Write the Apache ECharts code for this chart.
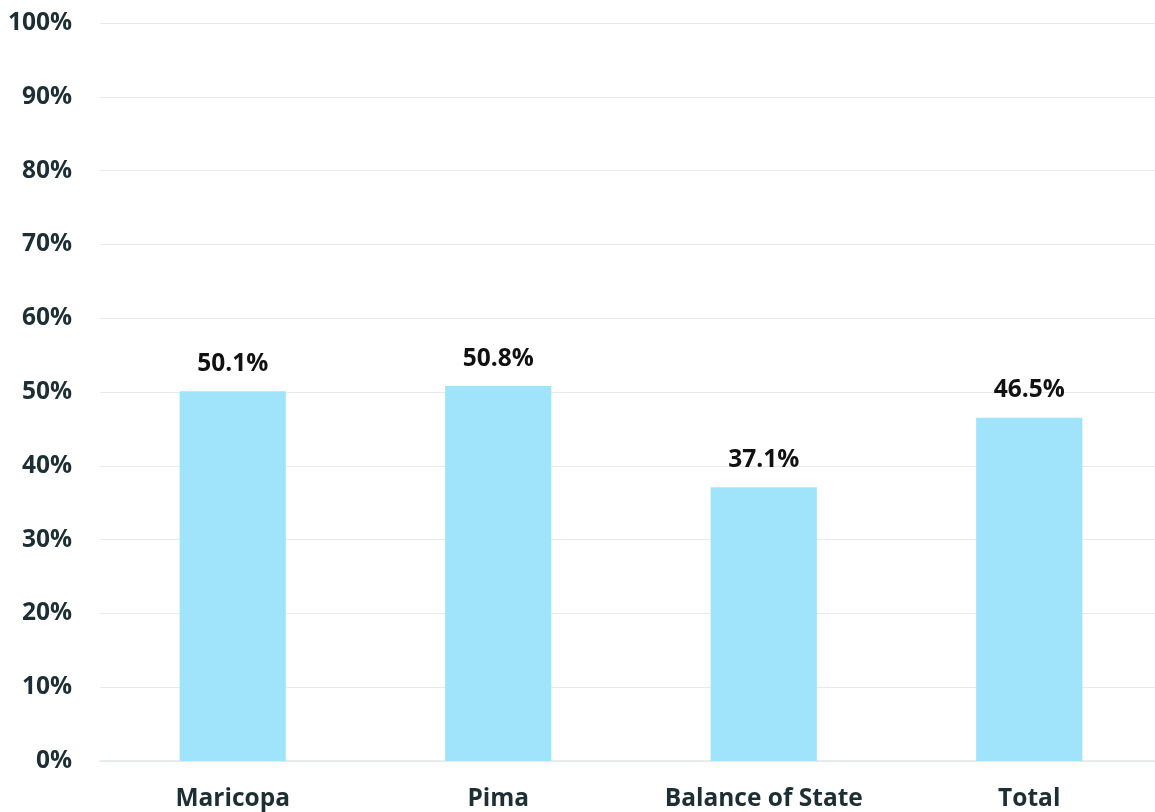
<!DOCTYPE html>
<html><head><meta charset="utf-8">
<script src="https://cdn.jsdelivr.net/npm/echarts@6/dist/echarts.min.js"></script>
<style>html,body{margin:0;padding:0;background:#fff;overflow:hidden;width:1155px;height:812px}#c{width:1162px;height:812px}</style>
</head><body><div id="c"></div>
<script>
const categories = ["Maricopa", "Pima", "Balance of State", "Total"];
const values = [50.1, 50.8, 37.1, 46.5];
const yTicks = [0, 10, 20, 30, 40, 50, 60, 70, 80, 90, 100];

const chart = echarts.init(document.getElementById('c'));
chart.setOption({
  animation: false,
  backgroundColor: '#fff',
  grid: { left: 100, right: 0, top: 23, bottom: 49, containLabel: false },
  xAxis: {
    type: 'category',
    data: categories,
    axisLine: { lineStyle: { color: '#e3e8e8', width: 1.5 } },
    axisTick: { show: false },
    axisLabel: { color: '#1d2f33', fontSize: 24.5, fontWeight: 'bold', fontFamily: 'Open Sans', margin: 26 }
  },
  yAxis: {
    type: 'value', min: 0, max: 100, interval: 10,
    axisLine: { show: false }, axisTick: { show: false },
    splitLine: { lineStyle: { color: '#e6eaea', width: 1.2 } },
    axisLabel: { color: '#1d2f33', fontSize: 24.5, fontWeight: 'bold', fontFamily: 'Open Sans', margin: 28,
      formatter: v => yTicks.includes(v) ? v + '%' : '' }
  },
  series: [{
    type: 'bar',
    data: values,
    barWidth: '40%',
    itemStyle: { color: '#9fe4fb' },
    label: { show: true, position: 'top', distance: 15, color: '#111', fontSize: 24.5, fontWeight: 'bold', fontFamily: 'Open Sans',
      formatter: p => p.value.toFixed(1) + '%' }
  }]
});
</script></body></html>
